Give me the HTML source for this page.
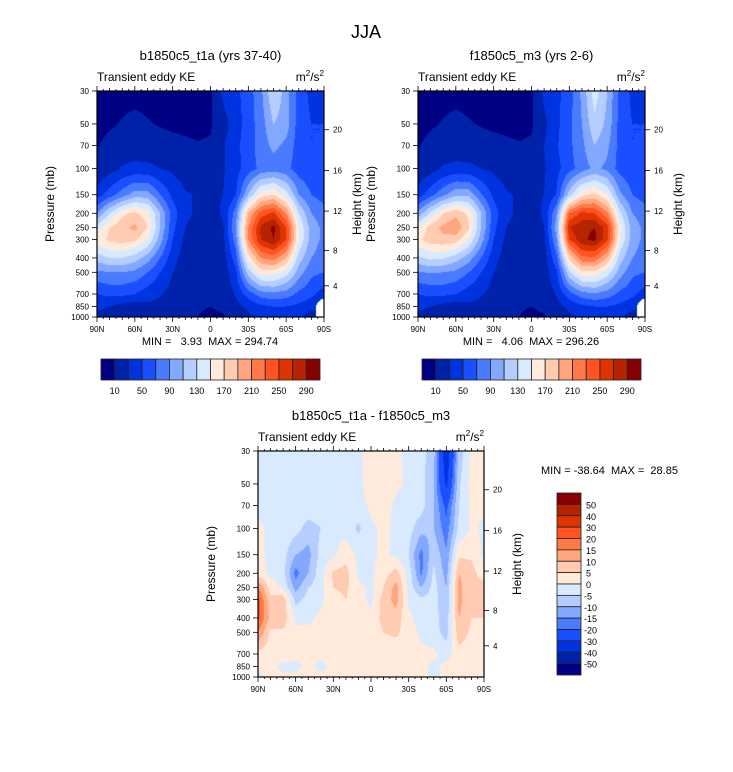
<!DOCTYPE html>
<html><head><meta charset="utf-8">
<style>
body{margin:0;background:#fff;}
#root{position:relative;width:733px;height:772px;overflow:hidden;font-family:"Liberation Sans",sans-serif;}
canvas{position:absolute;}
svg{position:absolute;left:0;top:0;}
</style></head>
<body>
<div id="root">
<canvas id="c1" width="227" height="226" style="left:97px;top:91px"></canvas>
<canvas id="c2" width="227" height="226" style="left:418px;top:91px"></canvas>
<canvas id="c3" width="226" height="226" style="left:258px;top:451px"></canvas>
<svg id="ov" width="733" height="772"></svg>
</div>
<script>
// ---- data ----
const lats = [90,80,70,60,50,40,30,20,10,0,-10,-20,-30,-40,-50,-60,-70,-80,-90];
const levels = [30,50,70,100,150,200,250,300,400,500,700,850,1000];
const keLevels = [10,30,50,70,90,110,130,150,170,190,210,230,250,270,290];
const keTickLabels = ["10","50","90","130","170","210","250","290"];
const diffLevels = [-50,-40,-30,-20,-15,-10,-5,0,5,10,15,20,30,40,50];
const diffTickLabels = ["50","40","30","20","15","10","5","0","-5","-10","-15","-20","-30","-40","-50"];
const keA = [
[5,5,5,5,5,5,5,5,5,7,35,45,60,85,130,100,60,45,40],
[6,8,11,14,11,9,7,6,6,8,22,40,60,80,110,100,60,50,50],
[9,14,18,18,17,16,15,13,11,12,28,45,60,80,95,85,60,50,50],
[12,22,32,36,35,30,26,20,18,18,28,42,60,75,80,75,60,55,50],
[40,60,80,100,100,70,45,32,28,28,30,48,110,160,170,140,90,70,60],
[90,130,165,175,160,110,60,35,26,25,32,80,190,240,255,210,130,90,80],
[140,170,185,195,170,110,55,30,20,18,28,90,210,275,295,250,150,100,85],
[160,175,180,175,150,100,50,25,16,15,24,80,210,270,290,250,150,100,85],
[120,130,130,120,100,70,38,20,15,14,20,60,160,210,220,190,120,90,80],
[85,90,90,85,70,50,30,18,14,14,18,45,120,160,160,140,100,75,70],
[50,55,55,50,40,32,22,15,13,13,16,32,60,80,85,80,65,55,40],
[35,30,22,18,25,22,16,13,11,10,12,22,35,45,50,50,45,35,null],
[25,20,18,14,18,17,14,12,10,8,9,14,25,35,40,40,35,20,null]];
const keB = [
[5,5,5,5,5,5,5,5,5,7,35,45,60,95,140,110,65,45,40],
[6,8,11,14,11,9,7,6,6,8,25,45,65,90,125,105,62,50,50],
[9,14,18,18,17,16,15,13,11,12,30,48,65,85,110,95,62,50,50],
[12,22,32,36,35,30,26,20,18,18,28,44,62,80,95,85,62,55,50],
[40,62,85,105,105,72,45,32,28,28,30,52,120,165,175,150,95,70,60],
[95,135,170,185,165,112,60,35,26,25,32,90,230,255,250,215,135,90,80],
[150,180,195,205,175,110,55,30,20,18,30,100,270,285,290,260,155,100,85],
[165,180,185,180,150,100,50,25,16,15,25,90,250,285,296,255,150,100,85],
[125,135,132,120,100,70,38,20,15,14,20,65,175,225,225,190,120,90,80],
[88,92,90,85,70,50,30,18,14,14,18,48,125,165,165,140,100,75,70],
[50,55,55,50,40,32,22,15,13,13,16,32,62,82,88,80,65,55,40],
[35,30,22,18,25,22,16,13,11,10,12,22,35,45,50,50,45,35,null],
[25,20,18,14,18,17,14,12,10,8,9,14,25,35,40,40,35,20,null]];
const diff = [
[-2,-2,-2,-2,-2,-2,-2,-2,-1,2,2,1,-1,-3,-8,-38,-8,1,1],
[-2,-2,-2,-2,-2,-2,-2,-2,-1,2,2,1,-1,-3,-10,-32,-6,2,1],
[-1,-1,-2,-2,-2,-2,-2,-2,-2,1,2,-1,-2,-3,-10,-22,-5,1,1],
[1,-1,-2,-3,-7,-5,-2,-2,-6,-1,1,-1,-3,-8,-10,-18,-4,1,-1],
[1,-1,-3,-10,-12,-3,-1,3,-1,-1,1,-1,-5,-17,-6,-14,4,4,-1],
[2,-1,-3,-17,-10,-2,6,7,-1,-1,3,7,-2,-16,-4,-12,10,7,2],
[15,3,-1,-12,-5,-2,5,6,1,-1,5,12,-2,-10,-3,-10,12,5,8],
[22,6,8,-7,-3,-1,3,5,2,-1,7,12,-1,-4,-3,-9,12,5,9],
[22,8,8,-1,-1,1,2,3,1,1,7,8,1,-2,-3,-8,10,5,5],
[15,4,4,1,1,1,1,2,1,1,5,6,2,-1,-3,-7,8,4,2],
[3,2,2,1,1,1,1,1,1,1,1,2,2,1,1,-2,3,2,1],
[1,1,-1,-1,1,-1,1,1,1,1,1,1,1,1,-1,1,2,1,1],
[-1,1,1,1,1,1,1,1,1,1,1,1,1,1,-1,1,1,1,1]];
const palette = ["#000082","#0022aa","#0033e0","#1a4fff","#4a7bff","#83a8ff","#b6ceff","#d9eaff","#ffeadb","#ffcbb1","#ffa67e","#ff7846","#ff5321","#e03400","#b52300","#870000"];
const latTicks = [90,60,30,0,-30,-60,-90];
const latTickLabels = ["90N","60N","30N","0","30S","60S","90S"];
const pTicks = [30,50,70,100,150,200,250,300,400,500,700,850,1000];
const hTicks = [4,8,12,16,20];

// ---- helpers ----
const LP0=Math.log10(30), LP1=Math.log10(1000);
function yOfP(p,top,h){return top+h*(Math.log10(p)-LP0)/(LP1-LP0);}
function xOfLat(lat,left,w){return left+w*(90-lat)/180;}
function pOfZ(z){return z<=11?1013.25*Math.pow(1-z/44.33,5.255):226.3*Math.exp(-(z-11)/6.34);}
function hex(c){return [parseInt(c.substr(1,2),16),parseInt(c.substr(3,2),16),parseInt(c.substr(5,2),16)];}
const rgb = palette.map(hex);
function colorIdx(v,lv){let i=0;while(i<lv.length&&v>=lv[i])i++;return i;}

function drawField(id,grid,lv){
  const cv=document.getElementById(id),ctx=cv.getContext('2d');
  const W=cv.width,H=cv.height,img=ctx.createImageData(W,H);
  const lpl=levels.map(p=>Math.log10(p));
  for(let py=0;py<H;py++){
    const lp=LP0+(py+0.5)/H*(LP1-LP0);
    let j=0;while(j<levels.length-2&&lp>lpl[j+1])j++;
    let ty=(lp-lpl[j])/(lpl[j+1]-lpl[j]);ty=Math.max(0,Math.min(1,ty));
    for(let px=0;px<W;px++){
      const lat=90-(px+0.5)/W*180;
      let fi=(90-lat)/10;let i=Math.min(Math.floor(fi),lats.length-2);let tx=fi-i;
      const a=grid[j][i],b=grid[j][i+1],c=grid[j+1][i],d=grid[j+1][i+1];
      const k=(py*W+px)*4;
      if(a===null||b===null||c===null||d===null){
        const vals=[[a,(1-tx)*(1-ty)],[b,tx*(1-ty)],[c,(1-tx)*ty],[d,tx*ty]];
        let nw=0;vals.forEach(q=>{if(q[0]===null)nw+=q[1];});
        if(nw>0.35){img.data[k]=255;img.data[k+1]=255;img.data[k+2]=255;img.data[k+3]=255;continue;}
        let s=0,ws=0;vals.forEach(q=>{if(q[0]!==null){s+=q[0]*q[1];ws+=q[1];}});
        const col=rgb[colorIdx(s/ws,lv)];img.data[k]=col[0];img.data[k+1]=col[1];img.data[k+2]=col[2];img.data[k+3]=255;continue;
      }
      const v=a*(1-tx)*(1-ty)+b*tx*(1-ty)+c*(1-tx)*ty+d*tx*ty;
      const col=rgb[colorIdx(v,lv)];
      img.data[k]=col[0];img.data[k+1]=col[1];img.data[k+2]=col[2];img.data[k+3]=255;
    }
  }
  ctx.putImageData(img,0,0);
}
drawField('c1',keA,keLevels);
drawField('c2',keB,keLevels);
drawField('c3',diff,diffLevels);

// ---- svg overlay ----
const NS="http://www.w3.org/2000/svg";
const svg=document.getElementById('ov');
function el(tag,attrs,parent){const e=document.createElementNS(NS,tag);for(const k in attrs)e.setAttribute(k,attrs[k]);(parent||svg).appendChild(e);return e;}
function txt(x,y,s,size,anchor,name,extra){const t=el('text',Object.assign({x:x,y:y,'font-size':size,'text-anchor':anchor||'start','font-family':'Liberation Sans, sans-serif',fill:'#000'},extra||{}));t.textContent=s;


return t;}

function panel(left,top,w,h,title,key){
  const g=el('g',{});
  
  
  el('rect',{x:left,y:top,width:w,height:h,fill:'none',stroke:'#000','stroke-width':1.2},g);
  for(let lat=90;lat>=-90;lat-=5){
    const x=xOfLat(lat,left,w);const major=lat%30===0;const minor10=lat%10===0;
    const L=major?5:(minor10?3:2);
    el('line',{x1:x,y1:top+h,x2:x,y2:top+h+L,stroke:'#000','stroke-width':0.8},g);
    el('line',{x1:x,y1:top,x2:x,y2:top-L,stroke:'#000','stroke-width':0.8},g);
  }
  latTicks.forEach((lat,i)=>{txt(xOfLat(lat,left,w),top+h+15,latTickLabels[i],8,'middle',key+'-lat-label');});
  pTicks.forEach(p=>{const y=yOfP(p,top,h);
    el('line',{x1:left-5,y1:y,x2:left,y2:y,stroke:'#000','stroke-width':0.8},g);
    txt(left-8,y+3,String(p),8,'end',key+'-pressure-label');});
  hTicks.forEach(z=>{const y=yOfP(pOfZ(z),top,h);
    el('line',{x1:left+w,y1:y,x2:left+w+5,y2:y,stroke:'#000','stroke-width':0.8},g);
    txt(left+w+9,y+3,String(z),8,'start',key+'-height-label');});
  txt(left+w/2,top-31,title,13,'middle',key+'-title');
  txt(left,top-10,'Transient eddy KE',12,'start',key+'-subtitle');
  const u=txt(left+w,top-10,'',12,'end',key+'-units');
  u.innerHTML='m<tspan font-size="8" dy="-5">2</tspan><tspan dy="5">/s</tspan><tspan font-size="8" dy="-5">2</tspan>';
  txt(0,0,'Pressure (mb)',12,'middle',key+'-y-axis-title',{transform:`translate(${left-43},${top+h/2}) rotate(-90)`});
  txt(0,0,'Height (km)',12,'middle',key+'-right-axis-title',{transform:`translate(${left+w+37},${top+h/2}) rotate(-90)`});
}
txt(366,38,'JJA',18,'middle','figure-title');
panel(97,91,227,226,'b1850c5_t1a (yrs 37-40)','panel-left');
panel(418,91,227,226,'f1850c5_m3 (yrs 2-6)','panel-right');
panel(258,451,226,226,'b1850c5_t1a - f1850c5_m3','panel-diff');
txt(210,345,'MIN =   3.93  MAX = 294.74',11,'middle','left-minmax',{style:'white-space:pre'});
txt(531,345,'MIN =   4.06  MAX = 296.26',11,'middle','right-minmax',{style:'white-space:pre'});
txt(541,474,'MIN = -38.64  MAX =  28.85',11,'start','diff-minmax',{style:'white-space:pre'});

function hbar(left,top,w,h,key){
  const bw=w/palette.length;
  palette.forEach((c,i)=>{const r=el('rect',{x:left+i*bw,y:top,width:bw,height:h,fill:c,stroke:'#222','stroke-width':0.8});
    
    });
  keTickLabels.forEach((s,i)=>{txt(left+(2*i+1)*bw,top+h+14,s,9,'middle',key+'-label');});
}
hbar(101,359,219,21,'left-colorbar');
hbar(422,359,219,21,'right-colorbar');
(function(){
  const left=557,top=493,w=24,h=182,bh=h/palette.length;
  for(let i=0;i<palette.length;i++){
    const r=el('rect',{x:left,y:top+i*bh,width:w,height:bh,fill:palette[palette.length-1-i],stroke:'#222','stroke-width':0.8});
    
    
  }
  diffTickLabels.forEach((s,i)=>{txt(left+w+(s[0]==='-'?3:5),top+(i+1)*bh+4,s,9,'start','diff-colorbar-label');});
})();
</script>
</body></html>
